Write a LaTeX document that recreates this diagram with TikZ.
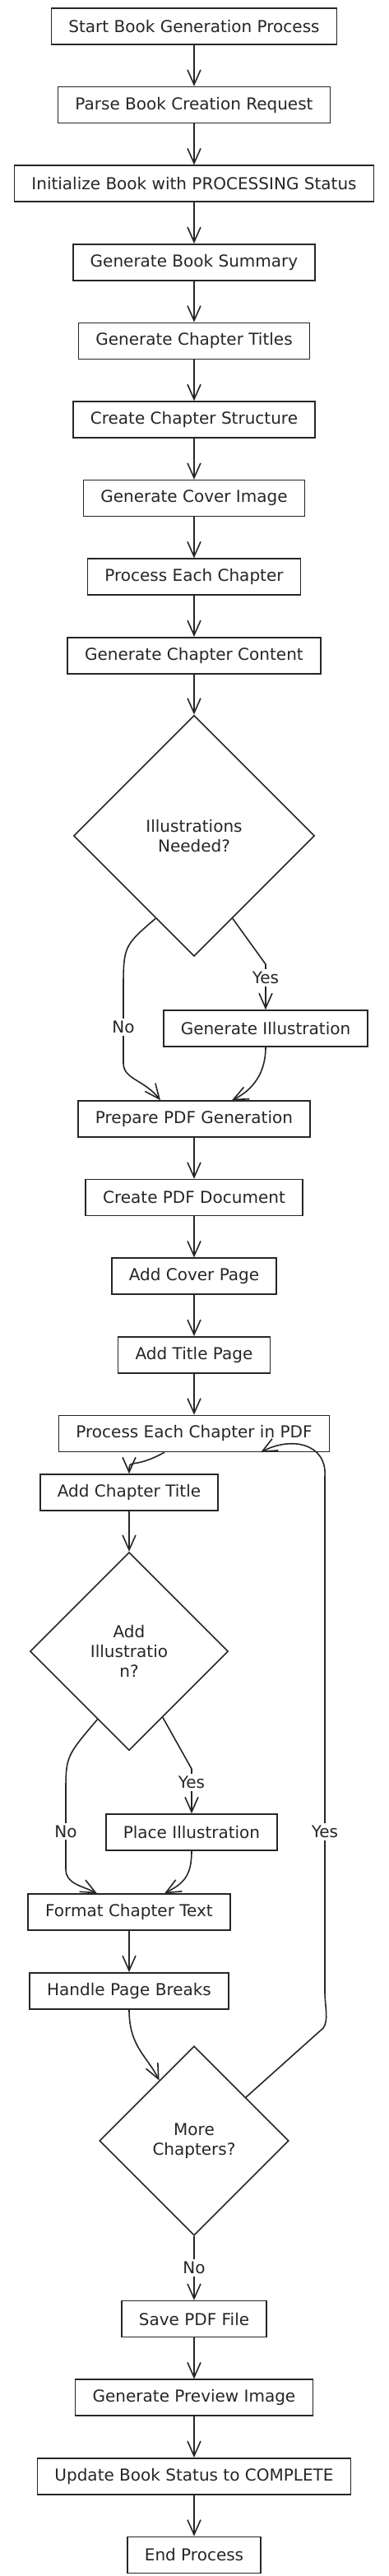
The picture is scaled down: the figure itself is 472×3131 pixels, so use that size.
\documentclass[tikz,border=0pt]{standalone}
\usepackage{fontspec}
\setmainfont{DejaVu Sans}
\usetikzlibrary{positioning,shapes.geometric,arrows.meta}

\begin{document}
\begin{tikzpicture}[
        x=1pt,y=-1pt,
        node distance=50pt,
        line width=1.6pt,
        every node/.append style={font=\fontsize{20}{24}\selectfont,text=black!85},
        box/.style={rectangle,draw=black!85,inner xsep=21pt,minimum height=44pt},
        decision/.style={diamond,draw=black!85,aspect=1,align=center,inner sep=2pt},
        lbl/.style={fill=white,inner sep=3pt},
        arr/.style={draw=black!85,-{Straight Barb[length=18pt,width=16pt]}}
    ]
    \useasboundingbox (0,0) rectangle (472,3131);

    \node (start)     [box] at (236,32) {Start Book Generation Process};
    \node (parse)     [box,below=of start] {Parse Book Creation Request};
    \node (init)      [box,below=of parse] {Initialize Book with PROCESSING Status};
    \node (summary)   [box,below=of init] {Generate Book Summary};
    \node (titles)    [box,below=of summary] {Generate Chapter Titles};
    \node (structure) [box,below=of titles] {Create Chapter Structure};
    \node (cover)     [box,below=of structure] {Generate Cover Image};
    \node (chapters)  [box,below=of cover] {Process Each Chapter};
    \node (content)   [box,below=of chapters] {Generate Chapter Content};
    \node (needill)   [decision,minimum size=293pt,below=49pt of content] {Illustrations\\Needed?};
    \node (genill)    [box] at (323,1250) {Generate Illustration};
    \node (prep)      [box,below=174pt of needill] {Prepare PDF Generation};
    \node (pdfdoc)    [box,below=of prep] {Create PDF Document};
    \node (coverpg)   [box,below=of pdfdoc] {Add Cover Page};
    \node (titlepg)   [box,below=of coverpg] {Add Title Page};
    \node (pdfchap)   [box,below=of titlepg] {Process Each Chapter in PDF};
    \node (chaptitle) [box] at (157,1814) {Add Chapter Title};
    \node (addill)    [decision,minimum size=241pt,below=49pt of chaptitle] {Add\\Illustratio\\n?};
    \node (placeill)  [box] at (233,2227) {Place Illustration};
    \node (fmttext)   [box,below=173pt of addill] {Format Chapter Text};
    \node (pgbreaks)  [box,below=of fmttext] {Handle Page Breaks};
    \node (more)      [decision,minimum size=230pt] at (236,2602) {More\\Chapters?};
    \node (save)      [box,below=78pt of more] {Save PDF File};
    \node (preview)   [box,below=of save] {Generate Preview Image};
    \node (update)    [box,below=of preview] {Update Book Status to COMPLETE};
    \node (finish)    [box,below=of update] {End Process};

    \draw[arr] (start) -- (parse);
    \draw[arr] (parse) -- (init);
    \draw[arr] (init) -- (summary);
    \draw[arr] (summary) -- (titles);
    \draw[arr] (titles) -- (structure);
    \draw[arr] (structure) -- (cover);
    \draw[arr] (cover) -- (chapters);
    \draw[arr] (chapters) -- (content);
    \draw[arr] (content) -- (needill);
    \draw[arr] (needill.-115) .. controls (150,1150) .. (150,1205)
        -- node[lbl] {No} (150,1292)
        .. controls (150,1312) and (175,1312) .. ([xshift=-41pt]prep.north);
    \draw[arr] (needill.-65) -- (323,1172) -- node[lbl,pos=0.3] {Yes} (genill.north);
    \draw[arr] (genill.south) .. controls +(0,32) and +(25,-12) .. ([xshift=46pt]prep.north);
    \draw[arr] (prep) -- (pdfdoc);
    \draw[arr] (pdfdoc) -- (coverpg);
    \draw[arr] (coverpg) -- (titlepg);
    \draw[arr] (titlepg) -- (pdfchap);
    \draw[arr] ([xshift=-36pt]pdfchap.south) .. controls +(-40,22) and +(0,-20) .. (chaptitle.north);
    \draw[arr] (chaptitle) -- (addill);
    \draw[arr] (addill.-115) .. controls (80,2135) .. (80,2180)
        -- node[lbl] {No} (80,2272)
        .. controls (80,2290) and (100,2292) .. ([xshift=-39pt]fmttext.north);
    \draw[arr] (addill.-63) -- (233,2150) -- node[lbl,pos=0.3] {Yes} (placeill.north);
    \draw[arr] (placeill.south) .. controls +(0,32) and +(22,-12) .. ([xshift=43pt]fmttext.north);
    \draw[arr] (fmttext) -- (pgbreaks);
    \draw[arr] (pgbreaks.south) .. controls +(0,45) and +(-15,-30) .. (more.120);
    \draw[arr] (more.40) -- (393,2465) .. controls (400,2455) and (395,2440) .. (395,2420)
        -- node[lbl,pos=0.31] {Yes} (395,1795)
        .. controls (398,1755) and (355,1745) .. ([xshift=81pt]pdfchap.south);
    \draw[arr] (more.south) -- node[lbl] {No} (save.north);
    \draw[arr] (save) -- (preview);
    \draw[arr] (preview) -- (update);
    \draw[arr] (update) -- (finish);
\end{tikzpicture}
\end{document}
